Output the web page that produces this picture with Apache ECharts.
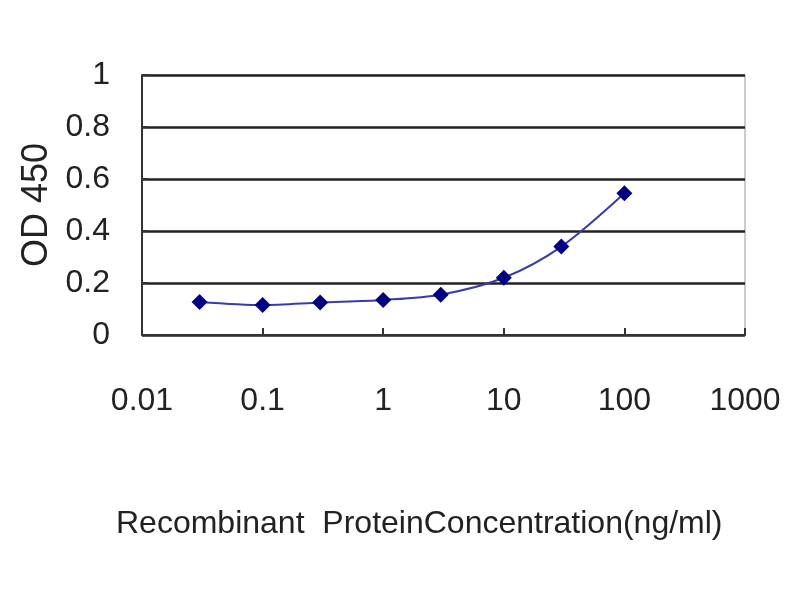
<!DOCTYPE html>
<html>
<head>
<meta charset="utf-8">
<script src="https://cdn.jsdelivr.net/npm/echarts@6/dist/echarts.min.js"></script>
<style>
  html, body { margin: 0; padding: 0; background: #fff; }
  #container { width: 800px; height: 600px; }
</style>
</head>
<body>
<div id="container"></div>
<script>
// concentration (ng/ml) and OD 450 readings
var concentrations = [0.03, 0.1, 0.3, 1, 3, 10, 30, 100];
var odValues = [0.127, 0.115, 0.125, 0.135, 0.155, 0.22, 0.34, 0.545];
var yTicks = [0, 0.2, 0.4, 0.6, 0.8, 1];
var xRange = [0.01, 1000];

var dom = document.getElementById('container');
var myChart = echarts.init(dom);

var points = concentrations.map(function (c, i) {
  return [c, odValues[i]];
});

var fontFam = '"Liberation Sans", Arial, sans-serif';

var option = {
  animation: false,
  title: {
    text: 'Recombinant  ProteinConcentration(ng/ml)',
    left: 116,
    top: 508,
    padding: 0,
    textStyle: { fontFamily: fontFam, fontSize: 32, fontWeight: 'normal', color: '#222' }
  },
  grid: {
    left: 142,
    right: 55,
    top: 75,
    bottom: 265,
    outerBoundsMode: 'none',
    containLabel: false,
    show: true,
    borderColor: '#999',
    borderWidth: 1
  },
  xAxis: {
    type: 'log',
    logBase: 10,
    min: xRange[0],
    max: xRange[1],
    axisLine: { lineStyle: { color: '#333', width: 2 } },
    axisTick: { inside: true, length: 7, lineStyle: { color: '#333', width: 2 } },
    axisLabel: {
      margin: 50,
      fontFamily: fontFam,
      fontSize: 32,
      color: '#222',
      formatter: function (v) { return String(v); }
    },
    splitLine: { show: false }
  },
  yAxis: {
    type: 'value',
    min: yTicks[0],
    max: yTicks[yTicks.length - 1],
    interval: 0.2,
    name: 'OD 450',
    nameLocation: 'middle',
    nameGap: 102,
    nameRotate: 90,
    nameTextStyle: { fontFamily: fontFam, fontSize: 36, color: '#222', verticalAlign: 'middle' },
    axisLine: { show: true, lineStyle: { color: '#333', width: 2 } },
    axisTick: { show: true, inside: true, length: 6, lineStyle: { color: '#333', width: 2 } },
    axisLabel: {
      margin: 32,
      fontFamily: fontFam,
      fontSize: 32,
      color: '#222',
      formatter: function (v) { return String(v); }
    },
    splitLine: { show: true, lineStyle: { color: '#222', width: 2.5 } }
  },
  series: [
    {
      type: 'line',
      data: points,
      smooth: 0.3,
      symbol: 'diamond',
      symbolSize: 16,
      itemStyle: { color: '#000080' },
      lineStyle: { color: '#3a3aa8', width: 2 }
    }
  ]
};

if (option && typeof option === 'object') {
  myChart.setOption(option);
}
</script>
</body>
</html>
